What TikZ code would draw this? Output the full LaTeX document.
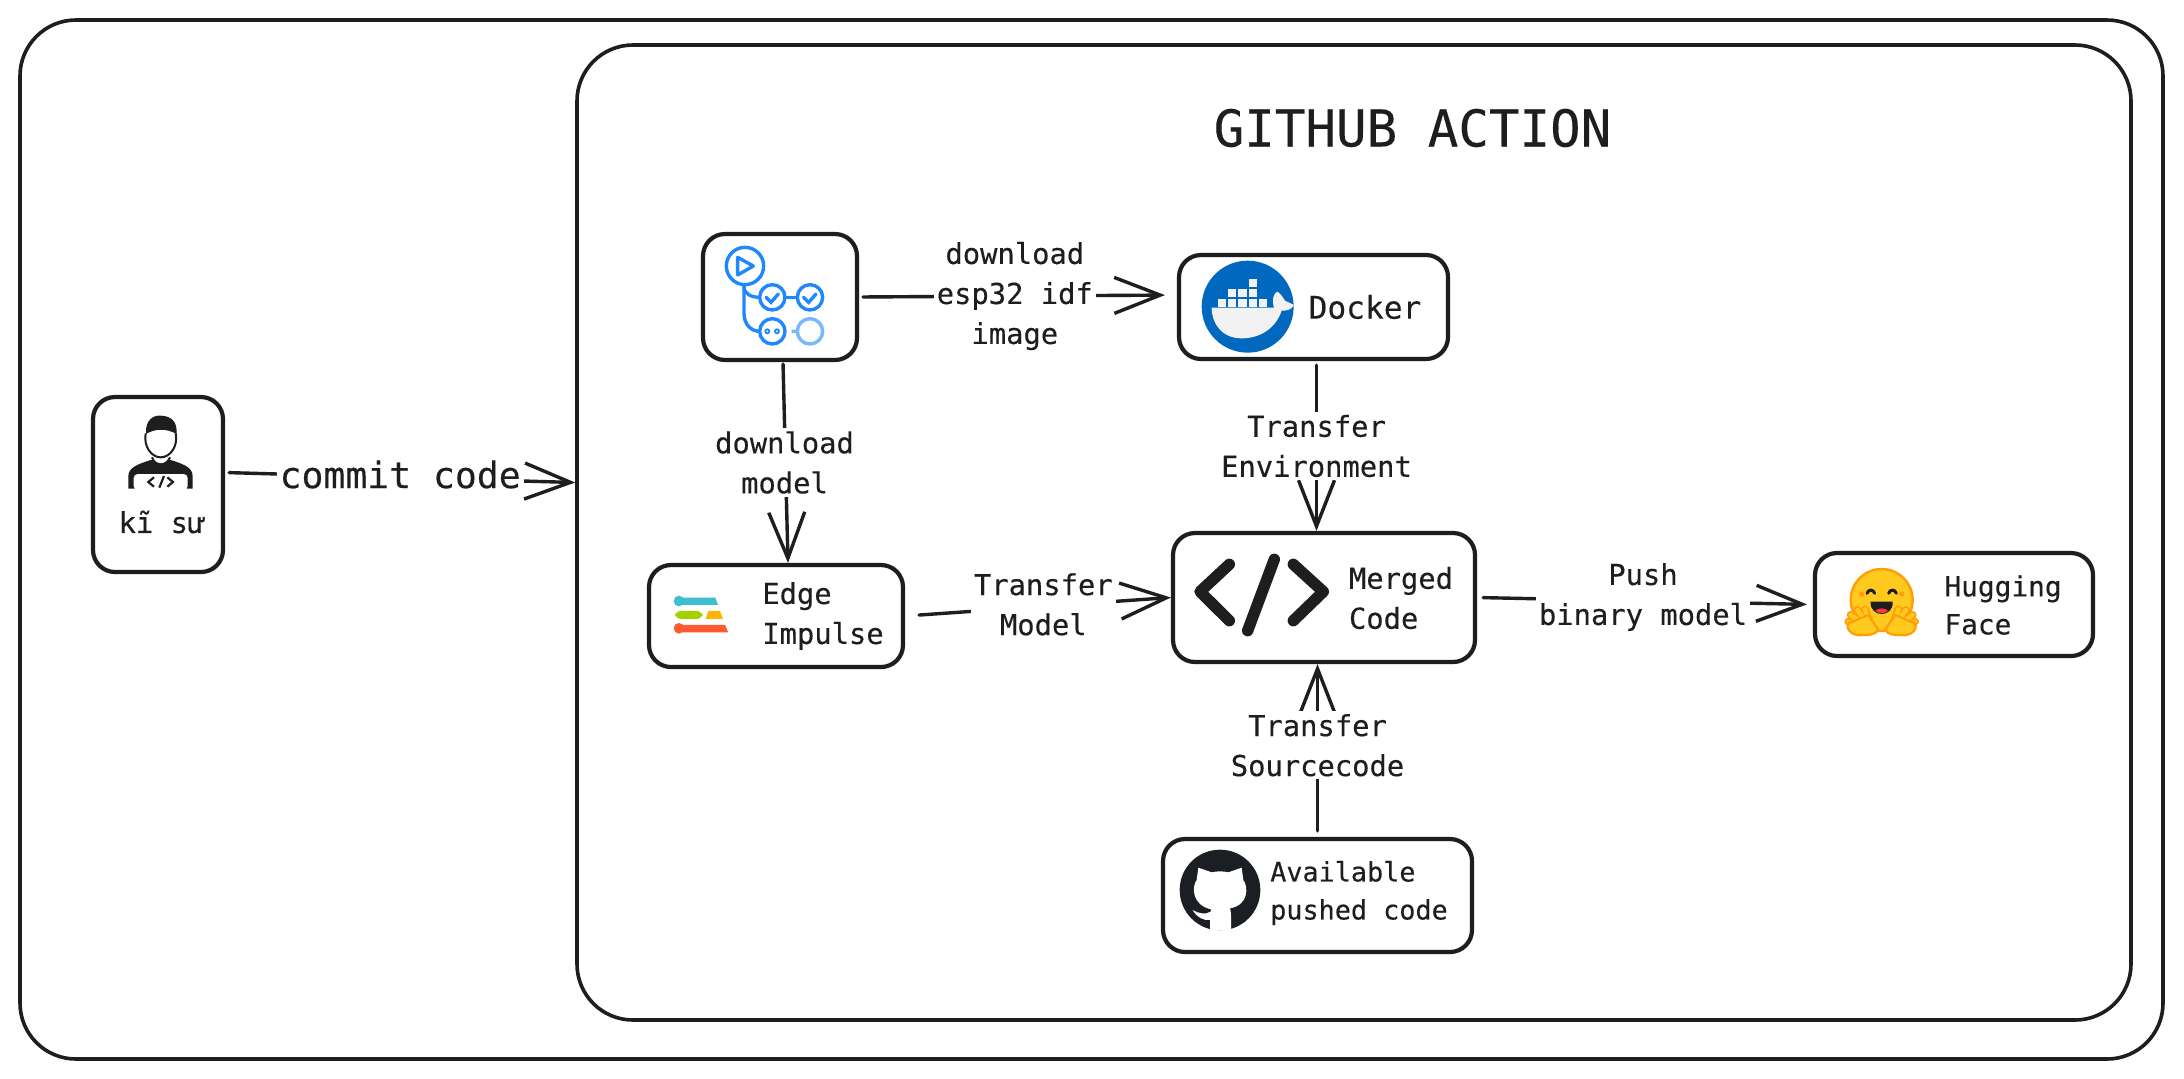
\documentclass[tikz,border=0pt]{standalone}
\usepackage{fontspec}
\setmainfont[FakeBold=0.25]{DejaVu Sans Mono}
\usetikzlibrary{arrows.meta}
\definecolor{ink}{HTML}{1E1E1E}
\definecolor{ghblue}{HTML}{2088FF}
\definecolor{ghpale}{HTML}{79B8FF}
\definecolor{ghdark}{HTML}{1B1F24}
\definecolor{dockblue}{HTML}{0069BF}
\definecolor{hugyellow}{HTML}{FFC91D}
\definecolor{hugorange}{HTML}{FF9D0B}
\definecolor{edgeteal}{HTML}{3DBFD0}
\definecolor{edgegreen}{HTML}{A3D100}
\definecolor{edgeamber}{HTML}{FFB400}
\definecolor{edgered}{HTML}{FF5A30}
\tikzset{
  x=0.5pt,y=-0.5pt,
  font={\fontsize{14.4pt}{20pt}\selectfont},
  frame/.style={draw=ink,line width=1.8pt,fill=white,rounded corners=28pt,inner sep=0pt},
  box/.style={draw=ink,line width=2.1pt,fill=white,rounded corners=11pt,inner sep=0pt},
  lbl/.style={fill=white,text=ink,align=center,inner sep=1.5pt},
  txt/.style={text=ink,align=left,inner sep=0pt},
  conn/.style={draw=ink,line width=1.7pt,line cap=round,-{Straight Barb[length=23pt,width=18pt,line width=1.7pt]}}}
\begin{document}
\begin{tikzpicture}
\useasboundingbox (0,0) rectangle (2184,1078);
\node[frame,minimum width=1071.5pt,minimum height=519.5pt] (outer) at (1091.5,539.5) {};
\node[frame,minimum width=777pt,minimum height=487.5pt] (inner) at (1354,532.5) {};
\node[text=ink,font={\fontsize{25.4pt}{30pt}\selectfont}] (title) at (1412.5,128) {GITHUB ACTION};
\node[box,minimum width=65pt,minimum height=87.5pt] (person) at (158,484.5) {};
\node[box,minimum width=77pt,minimum height=63pt] (actions) at (780,297) {};
\node[box,minimum width=127pt,minimum height=51pt] (edge) at (776,616) {};
\node[box,minimum width=134.5pt,minimum height=52pt] (docker) at (1313.5,307) {};
\node[box,minimum width=151pt,minimum height=64.5pt] (merged) at (1324,597.5) {};
\node[box,minimum width=139pt,minimum height=51.5pt] (hugging) at (1954,604.5) {};
\node[box,minimum width=154.5pt,minimum height=56.5pt] (github) at (1317.5,895.5) {};
\node[txt] (persontxt) at (162,522) {kĩ sư};
\node[txt] (edgetxt) at (823,616) {Edge\\Impulse};
\node[txt,font={\fontsize{15.6pt}{20pt}\selectfont}] (dockertxt) at (1365,307) {Docker};
\node[txt] (mergedtxt) at (1401,598) {Merged\\Code};
\node[txt,font={\fontsize{13.9pt}{19pt}\selectfont}] (huggingtxt) at (2003,605) {Hugging\\Face};
\node[txt,font={\fontsize{13.4pt}{19pt}\selectfont}] (githubtxt) at (1359,893) {Available\\pushed code};
\draw[conn,shorten <=2pt] ([yshift=6pt]person.east) -- node[lbl,yshift=1.5pt,font={\fontsize{18.2pt}{22pt}\selectfont}] (commit) {commit code} ([yshift=25pt]inner.west);
\draw[conn,shorten <=2pt,shorten >=6pt] (actions.east) -- node[lbl,pos=.49] (dlimage) {download\\esp32 idf\\image} ([yshift=6pt]docker.west);
\draw[conn,shorten <=1pt] ([xshift=1.5pt]actions.south) -- node[lbl,xshift=-0.5pt] (dlmodel) {download\\model} ([xshift=6pt]edge.north);
\draw[conn,shorten <=2pt] ([xshift=1.5pt]docker.south) -- node[lbl] (trenv) {Transfer\\Environment} ([xshift=1.5pt]docker.south|-merged.north);
\draw[conn,shorten <=7pt] (edge.east) -- node[lbl,pos=.52,yshift=1pt] (trmodel) {Transfer\\Model} (merged.west);
\draw[conn,shorten <=3pt,shorten >=3pt] (merged.east) -- node[lbl,yshift=2pt,xshift=-1pt] (push) {Push\\binary model} (hugging.west);
\draw[conn,shorten <=3pt] (github.north) -- node[lbl,pos=.53] (trsrc) {Transfer\\Sourcecode} (github.north|-merged.south);
\begin{scope}[shift={(60,370)},scale=0.3333]
\fill[ink] (205,356) -- (205,320) .. controls (205,295) and (225,285) .. (272,270) -- (332,270) .. controls (380,285) and (398,295) .. (398,320) -- (398,356) -- cycle;
\fill[white,rounded corners=2pt] (221,312) rectangle (383,360);
\draw[ink,line width=1pt,fill=white] (276,262) .. controls (285,290) and (320,290) .. (330,262);
\fill[white] (257,190) .. controls (250,230) and (275,262) .. (302,262) .. controls (330,262) and (355,230) .. (347,190) -- cycle;
\draw[ink,line width=1pt] (257,190) .. controls (250,230) and (275,262) .. (302,262) .. controls (330,262) and (355,230) .. (347,190);
\fill[ink] (258,192) .. controls (255,150) and (280,135) .. (302,137) .. controls (335,138) and (352,155) .. (350,192) .. controls (320,175) and (285,175) .. (258,192) -- cycle;
\draw[ink,line width=1.1pt] (282,322) -- (265,336) -- (282,350) (312,318) -- (298,353) (322,322) -- (339,336) -- (322,350);
\end{scope}
\begin{scope}[shift={(640,220)},scale=0.3333,ghblue,line width=1.7pt]
\draw (315,138) circle[radius=56];
\draw[line join=round] (293,112) -- (293,165) -- (340,138) -- cycle;
\foreach \cx/\cy in {397/232,510/232,397/334} \draw (\cx,\cy) circle[radius=38];
\draw[ghpale] (510,334) circle[radius=38] (455,334) -- (472,334);
\draw (312,195) -- (312,280) .. controls (312,315) and (335,334) .. (359,334);
\draw (312,200) .. controls (312,222) and (335,232) .. (359,232);
\draw (435,232) -- (472,232);
\foreach \cx in {378,491} \draw[line cap=round] (\cx,232) -- ++(15,15) -- ++(22,-25);
\foreach \cx in {382,411} \draw[line width=0.9pt] (\cx,334) circle[radius=6];
\end{scope}
\begin{scope}[shift={(640,220)},scale=0.3333]
\fill[edgeteal] (117,1143) circle[radius=16] (117,1133) -- (226,1133) -- (234,1155) -- (117,1155) -- cycle;
\fill[rounded corners=3pt,edgegreen] (105,1173) rectangle (188,1197);
\fill[edgeamber] (205,1173) -- (240,1173) -- (249,1197) -- (197,1197) -- cycle;
\fill[edgered] (117,1225) circle[radius=16] (117,1215) -- (255,1215) -- (265,1237) -- (117,1237) -- cycle;
\end{scope}
\begin{scope}[shift={(1150,240)},scale=0.3333]
\fill[dockblue] (293,200) circle[radius=138];
\fill[black!5] (185,203) -- (372,203) .. controls (365,180) and (370,160) .. (382,155) .. controls (392,160) and (400,175) .. (405,182) -- (432,195) .. controls (425,210) and (410,212) .. (395,212) .. controls (375,270) and (325,295) .. (275,295) .. controls (215,295) and (185,250) .. (185,203) -- cycle;
\foreach \bx in {203,234,265,296,327} \fill[black!5] (\bx,178) rectangle ++(25,22);
\foreach \bx in {234,265,296} \fill[black!5] (\bx,148) rectangle ++(25,24);
\fill[black!5] (296,118) rectangle ++(25,24);
\end{scope}
\begin{scope}[shift={(1160,520)},scale=0.3333]
\draw[ink,line width=5.7pt,line cap=round,line join=round] (208,133) -- (120,215) -- (208,302) (343,118) -- (263,332) (400,133) -- (490,215) -- (400,302);
\end{scope}
\begin{scope}[shift={(1800,540)},scale=0.3333]
\draw[hugorange,line width=1.2pt,fill=hugyellow] (245,180) circle[radius=93];
\fill[hugorange] (185,162) circle[radius=8] (305,162) circle[radius=8];
\draw[ink,line width=1.5pt,line cap=round] (201,160) .. controls (205,147) and (220,147) .. (224,160) (266,160) .. controls (270,147) and (285,147) .. (289,160);
\fill[ink] (212,185) -- (278,185) .. controls (280,210) and (262,222) .. (245,222) .. controls (228,222) and (210,210) .. (212,185) -- cycle;
\fill[red!70!pink] (226,212) .. controls (235,203) and (255,203) .. (264,212) .. controls (255,222) and (235,222) .. (226,212) -- cycle;
\foreach \fx/\fy in {145/245,152/225,172/210,195/208} {
  \draw[hugorange,line width=4pt,line cap=round] (215,268) -- (\fx,\fy);
  \draw[hugorange,line width=4pt,line cap=round] (275,268) -- (490-\fx,\fy);}
\foreach \fx/\fy in {145/245,152/225,172/210,195/208} {
  \draw[hugyellow,line width=2.2pt,line cap=round] (215,268) -- (\fx,\fy);
  \draw[hugyellow,line width=2.2pt,line cap=round] (275,268) -- (490-\fx,\fy);}
\draw[hugorange,line width=1.1pt,fill=hugyellow] (190,285) .. controls (160,290) and (135,270) .. (145,250) -- (205,225) -- (235,270) .. controls (225,285) and (205,285) .. (190,285) -- cycle;
\draw[hugorange,line width=1.1pt,fill=hugyellow] (300,285) .. controls (330,290) and (355,270) .. (345,250) -- (285,225) -- (255,270) .. controls (265,285) and (285,285) .. (300,285) -- cycle;
\end{scope}
\begin{scope}[shift={(1150,830)},scale=0.3333]
\fill[ghdark] (210,180) circle[radius=121];
\fill[white] (145,113) -- (185,127) .. controls (200,123) and (220,123) .. (235,127) -- (275,113) -- (280,150) .. controls (295,170) and (297,225) .. (240,235) .. controls (245,250) and (243,280) .. (243,302) -- (180,302) -- (180,270) .. controls (160,272) and (140,262) .. (128,240) .. controls (145,250) and (165,255) .. (182,245) -- (183,238) .. controls (125,225) and (125,170) .. (140,150) -- cycle;
\end{scope}
\end{tikzpicture}
\end{document}
